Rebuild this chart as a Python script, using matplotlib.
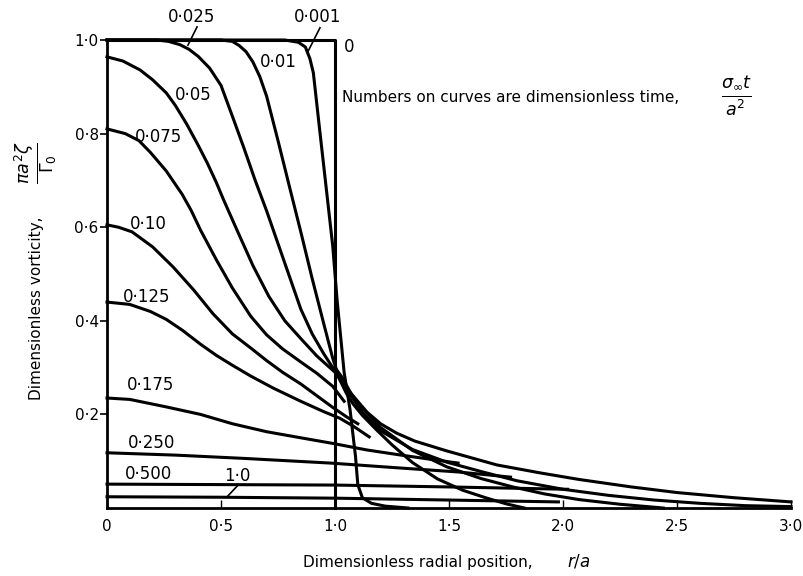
import matplotlib
matplotlib.use('Agg')
import matplotlib.pyplot as plt

# radial position r/a and vorticity pi a^2 zeta / Gamma0
t0_r = [0.0, 1.0, 1.0]
t0_v = [1.0, 1.0, 0.0]

t001_r = [0.0, 0.78, 0.84, 0.87, 0.89, 0.905, 0.93, 0.96, 0.99, 1.01, 1.04, 1.066, 1.09, 1.10, 1.12, 1.16, 1.22, 1.32]
t001_v = [1.0, 1.0, 0.995, 0.985, 0.96, 0.93, 0.82, 0.69, 0.56, 0.44, 0.29, 0.21, 0.11, 0.05, 0.022, 0.01, 0.004, 0.0]

t01_r = [0.0, 0.50, 0.55, 0.58, 0.61, 0.64, 0.67, 0.70, 0.75, 0.80, 0.85, 0.90, 0.95, 0.99, 1.02, 1.05,
         1.08, 1.12, 1.18, 1.25, 1.34, 1.45, 1.56, 1.66, 1.75, 1.83]
t01_v = [1.0, 1.0, 0.997, 0.988, 0.975, 0.953, 0.922, 0.88, 0.785, 0.687, 0.59, 0.49, 0.395, 0.32, 0.275, 0.245,
         0.222, 0.198, 0.168, 0.135, 0.097, 0.062, 0.038, 0.022, 0.009, 0.0]

t025_r = [0.0, 0.22, 0.27, 0.32, 0.36, 0.40, 0.45, 0.50, 0.55, 0.60, 0.65, 0.70, 0.75, 0.80, 0.85, 0.90,
          0.95, 0.99, 1.04, 1.10, 1.20, 1.34, 1.49, 1.64, 1.78, 1.92, 2.07, 2.25, 2.44]
t025_v = [1.0, 1.0, 0.997, 0.99, 0.98, 0.965, 0.94, 0.903, 0.837, 0.77, 0.70, 0.635, 0.565, 0.495, 0.425, 0.372,
          0.33, 0.30, 0.265, 0.225, 0.172, 0.123, 0.088, 0.063, 0.045, 0.03, 0.018, 0.008, 0.0]

t05_r = [0.0, 0.07, 0.145, 0.20, 0.26, 0.30, 0.35, 0.40, 0.44, 0.48, 0.51, 0.57, 0.64, 0.71, 0.78, 0.85,
         0.92, 1.0, 1.05, 1.12, 1.20, 1.34, 1.49, 1.64, 1.80, 2.0, 2.2, 2.4, 2.6, 2.8, 3.0]
t05_v = [0.964, 0.955, 0.936, 0.915, 0.887, 0.86, 0.82, 0.775, 0.737, 0.695, 0.66, 0.594, 0.518, 0.452, 0.40, 0.362,
         0.325, 0.29, 0.255, 0.205, 0.165, 0.125, 0.098, 0.078, 0.058, 0.04, 0.027, 0.017, 0.01, 0.005, 0.003]

t075_r = [0.0, 0.08, 0.14, 0.19, 0.26, 0.33, 0.37, 0.41, 0.48, 0.55, 0.63, 0.70, 0.77, 0.85, 0.92, 0.99, 1.04]
t075_v = [0.81, 0.80, 0.785, 0.76, 0.72, 0.67, 0.635, 0.594, 0.53, 0.47, 0.41, 0.37, 0.34, 0.312, 0.288, 0.26, 0.228]

tail_r = [1.0, 1.03, 1.07, 1.14, 1.20, 1.27, 1.35, 1.49, 1.71, 1.90, 2.07, 2.30, 2.50, 2.75, 3.0]
tail_v = [0.30, 0.28, 0.245, 0.205, 0.18, 0.16, 0.143, 0.122, 0.092, 0.075, 0.061, 0.045, 0.033, 0.022, 0.013]

t10_r = [0.0, 0.05, 0.11, 0.20, 0.29, 0.38, 0.465, 0.55, 0.63, 0.70, 0.77, 0.85, 0.92, 0.99, 1.05, 1.10]
t10_v = [0.605, 0.60, 0.59, 0.558, 0.515, 0.466, 0.415, 0.372, 0.342, 0.315, 0.29, 0.265, 0.24, 0.215, 0.195, 0.18]

t125_r = [0.0, 0.10, 0.19, 0.26, 0.33, 0.41, 0.48, 0.55, 0.63, 0.73, 0.85, 0.95, 1.02, 1.08, 1.15]
t125_v = [0.44, 0.435, 0.42, 0.403, 0.38, 0.35, 0.326, 0.305, 0.282, 0.256, 0.228, 0.206, 0.192, 0.175, 0.152]

t175_r = [0.0, 0.10, 0.26, 0.41, 0.55, 0.70, 0.85, 0.99, 1.14, 1.29, 1.42, 1.54]
t175_v = [0.235, 0.232, 0.216, 0.20, 0.18, 0.163, 0.15, 0.138, 0.124, 0.113, 0.104, 0.096]

t250_r = [0.0, 0.30, 0.60, 0.98, 1.27, 1.54, 1.77]
t250_v = [0.118, 0.113, 0.106, 0.096, 0.086, 0.077, 0.066]

t500_r = [0.0, 0.5, 1.0, 1.5, 2.02]
t500_v = [0.051, 0.05, 0.049, 0.045, 0.04]

t1_r = [0.0, 0.5, 1.0, 1.5, 1.98]
t1_v = [0.024, 0.023, 0.021, 0.017, 0.013]

curves = [(t0_r, t0_v), (t001_r, t001_v), (t01_r, t01_v), (t025_r, t025_v), (t05_r, t05_v),
          (t075_r, t075_v), (tail_r, tail_v), (t10_r, t10_v), (t125_r, t125_v),
          (t175_r, t175_v), (t250_r, t250_v), (t500_r, t500_v), (t1_r, t1_v)]

xticks = [0, 0.5, 1.0, 1.5, 2.0, 2.5, 3.0]
xticklabels = ['0', '0·5', '1·0', '1·5', '2·0', '2·5', '3·0']
yticks = [0.2, 0.4, 0.6, 0.8, 1.0]
yticklabels = ['0·2', '0·4', '0·6', '0·8', '1·0']

plt.rcParams['font.family'] = 'DejaVu Sans'

fig = plt.figure(figsize=(8.04, 5.76), dpi=100)
ax = fig.add_axes([107/804, 68/576, 684/804, 468/576])

for r, v in curves:
    ax.plot(r, v, color='black', lw=2.2, clip_on=False, solid_joinstyle='round')

ax.set_xlim(0, 3.0)
ax.set_ylim(0, 1.0)
for s in ['top', 'right']:
    ax.spines[s].set_visible(False)
for s in ['left', 'bottom']:
    ax.spines[s].set_linewidth(2)

ax.set_xticks(xticks)
ax.set_xticklabels(xticklabels)
ax.set_yticks(yticks)
ax.set_yticklabels(yticklabels)
ax.tick_params(axis='x', direction='in', length=6, width=1, pad=8, labelsize=11)
ax.tick_params(axis='y', direction='out', length=5, width=1.2, pad=1, labelsize=11)

# curve labels
kw = dict(fontsize=12, ha='center', va='center')
ax.text(0.373, 1.049, '0·025', clip_on=False, **kw)
ax.text(0.925, 1.049, '0·001', clip_on=False, **kw)
ax.text(1.06, 0.985, '0', **kw)
ax.text(0.75, 0.953, '0·01', **kw)
ax.text(0.38, 0.882, '0·05', **kw)
ax.text(0.224, 0.793, '0·075', **kw)
ax.text(0.18, 0.607, '0·10', **kw)
ax.text(0.175, 0.451, '0·125', **kw)
ax.text(0.19, 0.263, '0·175', **kw)
ax.text(0.197, 0.139, '0·250', **kw)
ax.text(0.18, 0.073, '0·500', **kw)
ax.text(0.57, 0.068, '1·0', **kw)
ax.plot([0.395, 0.355], [1.028, 0.989], color='black', lw=1.2, clip_on=False)
ax.plot([0.934, 0.88], [1.026, 0.974], color='black', lw=1.2, clip_on=False)
ax.plot([0.575, 0.526], [0.049, 0.0235], color='black', lw=1.2, clip_on=False)

ax.text(1.03, 0.878, 'Numbers on curves are dimensionless time,', fontsize=11, ha='left', va='center')
ax.text(2.76, 0.88, r'$\frac{\sigma_\infty t}{a^2}$', fontsize=18, ha='center', va='center')

fig.text(37/804, 1 - 308/576, 'Dimensionless vorticity,', rotation=90, fontsize=11, ha='center', va='center')
fig.text(36/804, 1 - 163/576, r'$\frac{\pi a^2 \zeta}{\Gamma_0}$', rotation=90, fontsize=18, ha='center', va='center')
fig.text(303/804, 1 - 562/576, 'Dimensionless radial position,', fontsize=11, ha='left', va='center')
fig.text(567/804, 1 - 562/576, r'$r/a$', fontsize=12, ha='left', va='center')

fig.savefig('out.png', dpi=100)
